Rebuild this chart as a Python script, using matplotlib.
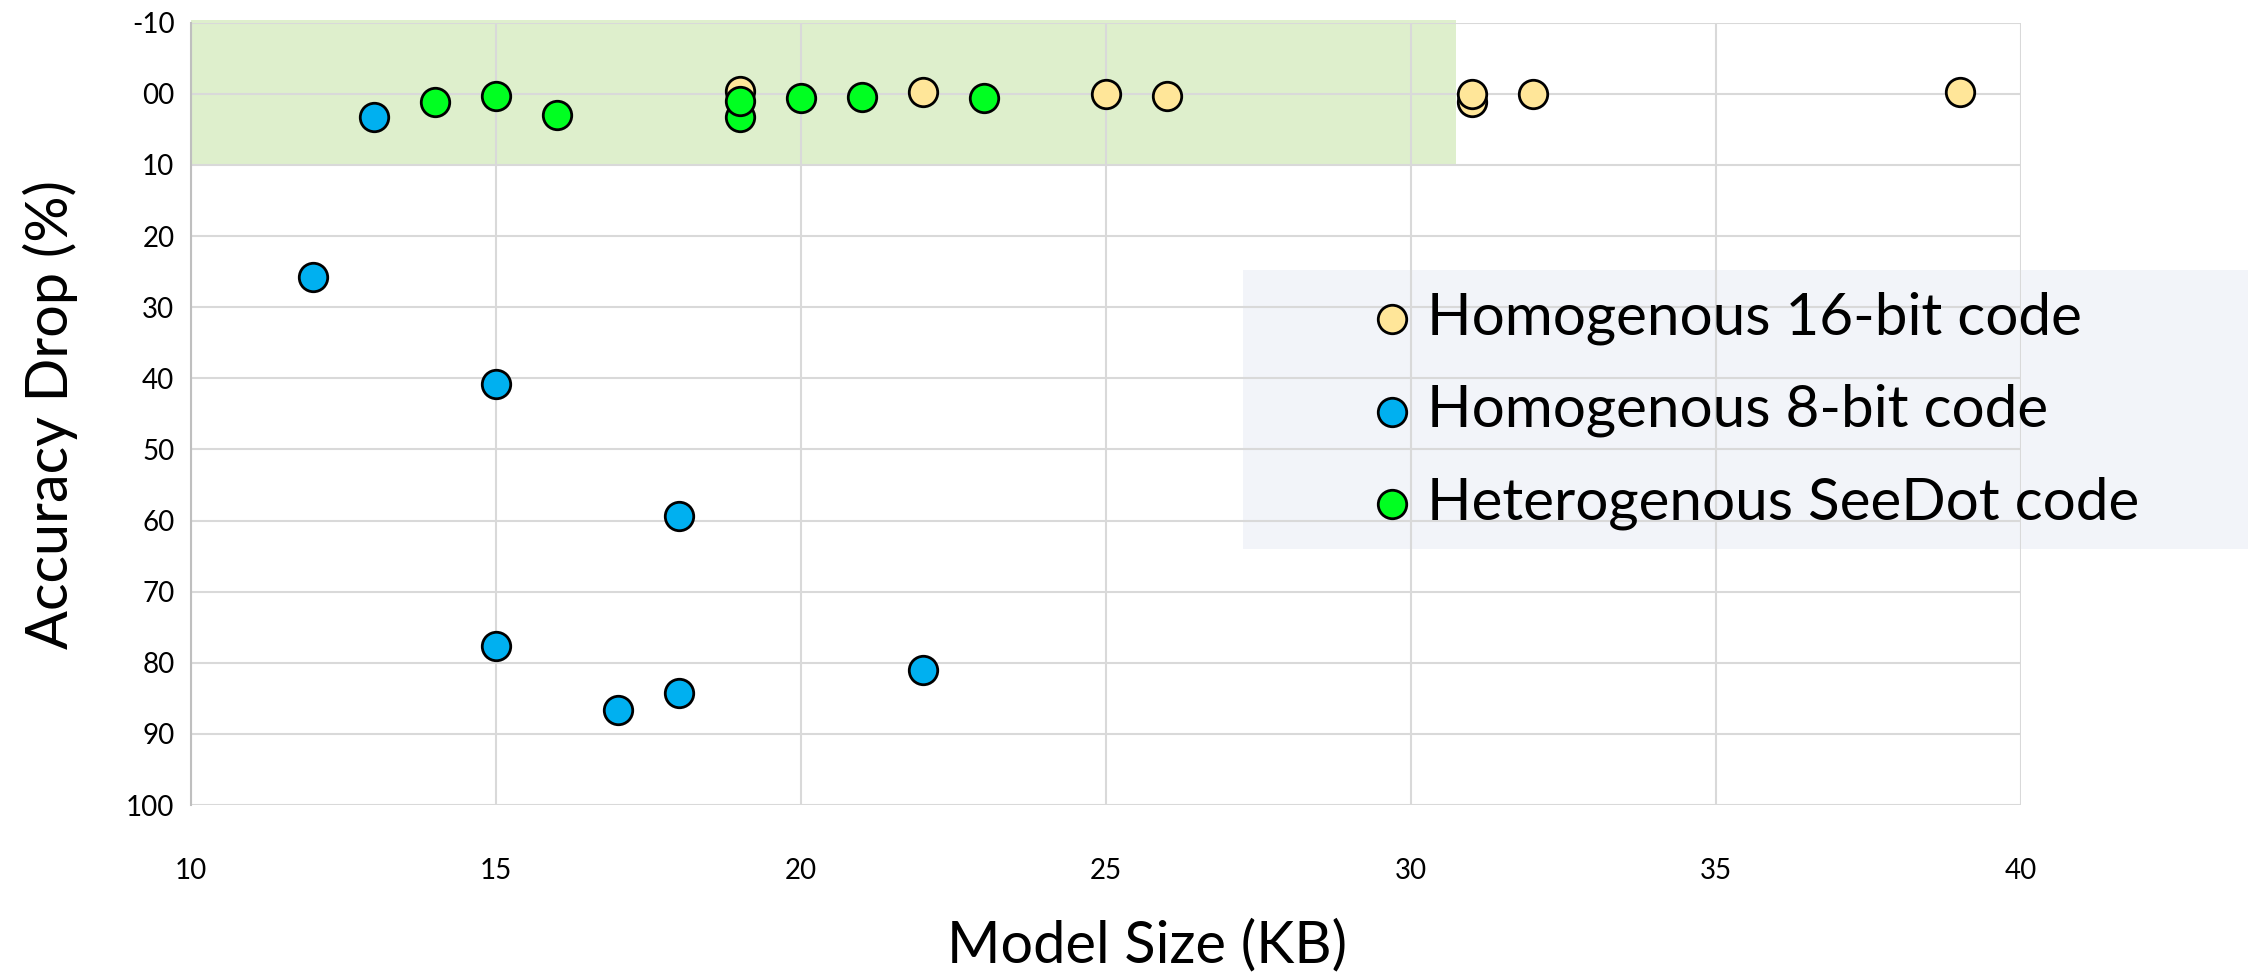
import matplotlib
matplotlib.use("Agg")
import matplotlib.pyplot as plt
from matplotlib.patches import Rectangle

# data
size_16 = [19, 22, 25, 26, 31, 31, 32, 39]
drop_16 = [-0.4, -0.2, 0.05, 0.3, 1.1, 0.0, 0.05, -0.3]
size_8 = [13, 12, 15, 18, 15, 17, 18, 22]
drop_8 = [3.3, 25.7, 40.8, 59.3, 77.7, 86.6, 84.2, 81.0]
size_sd = [14, 15, 16, 19, 19, 20, 21, 23]
drop_sd = [1.1, 0.3, 3.0, 3.3, 1.0, 0.6, 0.4, 0.6]

labels = ["Homogenous 16-bit code", "Homogenous 8-bit code", "Heterogenous SeeDot code"]
colors = ["#FFE699", "#00B0F0", "#00FF21"]

xticks = [10, 15, 20, 25, 30, 35, 40]
yticks = [-10, 0, 10, 20, 30, 40, 50, 60, 70, 80, 90, 100]
ytick_labels = ["-10", "00", "10", "20", "30", "40", "50", "60", "70", "80", "90", "100"]

TXT = ["Lato", "DejaVu Sans"]

fig = plt.figure(figsize=(22.48, 9.76), dpi=100)
ax = fig.add_axes([0.085, 0.1752, 0.814, 0.8015])

ax.set_xlim(10, 40)
ax.set_ylim(100, -10)
ax.set_xticks(xticks)
ax.set_yticks(yticks)
ax.set_yticklabels(ytick_labels)
for lab in ax.get_xticklabels() + ax.get_yticklabels():
    lab.set_family(TXT)
    lab.set_fontsize(20)
ax.tick_params(axis="both", length=0)
ax.tick_params(axis="y", pad=12)
ax.tick_params(axis="x", pad=38)

ax.set_axisbelow(True)
ax.grid(True, color="#D9D9D9", linewidth=1.5)
for s in ["top", "right", "bottom"]:
    ax.spines[s].set_visible(False)
ax.spines["left"].set_color("#BFBFBF")
ax.spines["left"].set_linewidth(1.5)

# green "acceptable" band
ax.add_patch(Rectangle((10, -10.4), 20.73, 20.4, facecolor="#DEEFCC",
                       edgecolor="none", zorder=0.2, clip_on=False))
# legend background box, runs off the right edge
ax.add_patch(Rectangle((1243 / 2248, 1 - 549 / 976), 1 - 1243 / 2248, 279 / 976,
                       transform=fig.transFigure, facecolor="#F2F4F9",
                       edgecolor="none", zorder=0.1, clip_on=False))

kw = dict(s=420, edgecolors="black", linewidths=2, zorder=3, clip_on=False)
h1 = ax.scatter(size_16, drop_16, c=colors[0], label=labels[0], **kw)
h2 = ax.scatter(size_8, drop_8, c=colors[1], label=labels[1], **kw)
h3 = ax.scatter(size_sd, drop_sd, c=colors[2], label=labels[2], **kw)

ax.legend(handles=[h1, h2, h3], loc="upper left",
          bbox_to_anchor=(1345 / 2248, 1 - 268 / 976), bbox_transform=fig.transFigure,
          frameon=False, prop={"family": TXT, "size": 42}, markerscale=1.0,
          handletextpad=0.2, labelspacing=0.67, borderaxespad=0, handlelength=0.8)

ax.set_ylabel("Accuracy Drop (%)", family=TXT, fontsize=41.5)
ax.set_xlabel("Model Size (KB)", family=TXT, fontsize=41.5)
ax.xaxis.set_label_coords(1147 / 2248, 1 - 946 / 976, transform=fig.transFigure)
ax.xaxis.label.set_va("center")
ax.yaxis.set_label_coords(50 / 2248, 1 - 415 / 976, transform=fig.transFigure)
ax.yaxis.label.set_va("center")

fig.savefig("out.png", dpi=100)
